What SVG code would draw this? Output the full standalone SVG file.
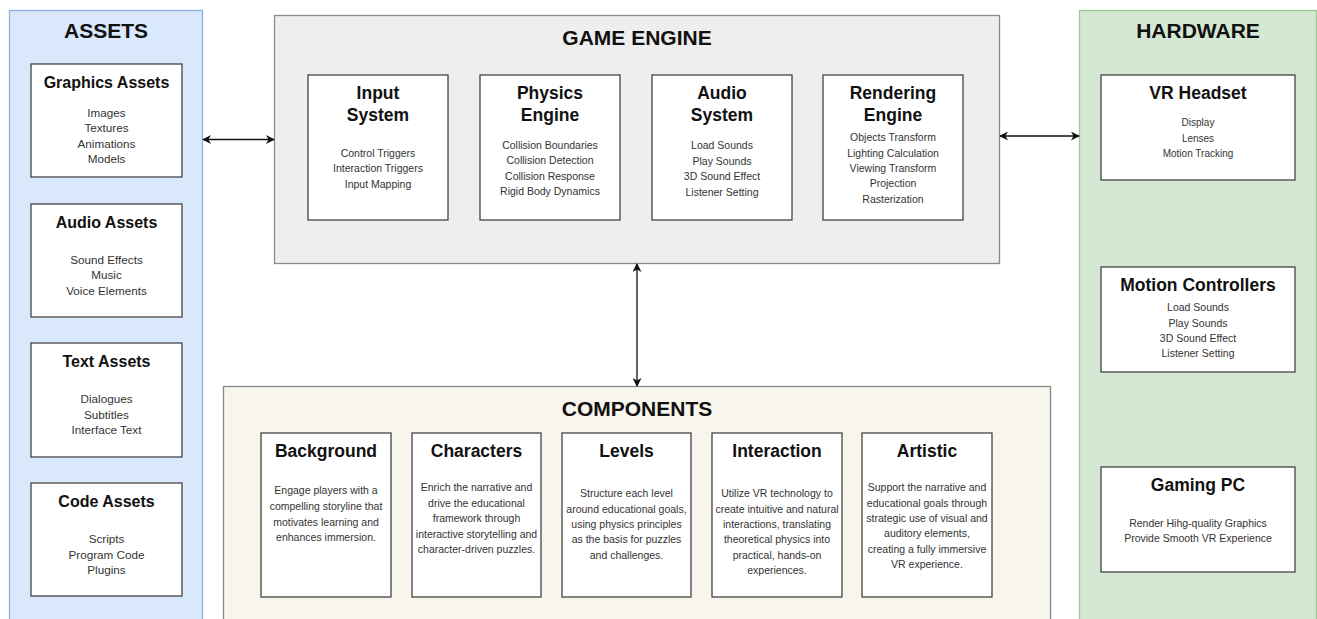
<svg xmlns="http://www.w3.org/2000/svg" width="1317" height="619" viewBox="0 0 1317 619">
<defs>
<marker id="ah" viewBox="0 0 10 10" refX="9" refY="5" markerWidth="10" markerHeight="9" markerUnits="userSpaceOnUse" orient="auto-start-reverse">
<path d="M0,0 L10,5 L0,10 L3,5 Z" fill="#111"/>
</marker>
<style>
text{font-family:"Liberation Sans",Arial,sans-serif;text-anchor:middle;dominant-baseline:central}
.ptitle{font-size:21px;font-weight:bold;fill:#111}
.btitle{font-size:17.5px;font-weight:bold;fill:#111}
.atitle{font-size:16px;font-weight:bold;fill:#111}
.item{font-size:10.5px;fill:#333}
.aitem{font-size:11.7px;fill:#333}
.hitem{font-size:10px;fill:#333}
.box{fill:#fff;stroke:#444;stroke-width:1.3}
.conn{stroke:#111;stroke-width:1.3;fill:none;marker-start:url(#ah);marker-end:url(#ah)}
</style>
</defs>
<rect width="1317" height="619" fill="#fff"/>

<g id="assets">
<rect x="9.5" y="10.5" width="193" height="620" fill="#dae8fc" stroke="#8fb0e0" stroke-width="1.3"/>
<text class="ptitle" x="106" y="30">ASSETS</text>
<g id="graphics-assets">
<rect class="box" x="31" y="64" width="151" height="113"/>
<text class="atitle" x="106.5" y="82">Graphics Assets</text>
<text class="aitem" x="106.5" y="112">Images</text>
<text class="aitem" x="106.5" y="127.5">Textures</text>
<text class="aitem" x="106.5" y="143">Animations</text>
<text class="aitem" x="106.5" y="158.5">Models</text>
</g>
<g id="audio-assets">
<rect class="box" x="31" y="204" width="151" height="113"/>
<text class="atitle" x="106.5" y="222">Audio Assets</text>
<text class="aitem" x="106.5" y="259">Sound Effects</text>
<text class="aitem" x="106.5" y="274.5">Music</text>
<text class="aitem" x="106.5" y="290">Voice Elements</text>
</g>
<g id="text-assets">
<rect class="box" x="31" y="343" width="151" height="114"/>
<text class="atitle" x="106.5" y="361">Text Assets</text>
<text class="aitem" x="106.5" y="398.5">Dialogues</text>
<text class="aitem" x="106.5" y="414">Subtitles</text>
<text class="aitem" x="106.5" y="429.5">Interface Text</text>
</g>
<g id="code-assets">
<rect class="box" x="31" y="483" width="151" height="113"/>
<text class="atitle" x="106.5" y="501">Code Assets</text>
<text class="aitem" x="106.5" y="538.5">Scripts</text>
<text class="aitem" x="106.5" y="554">Program Code</text>
<text class="aitem" x="106.5" y="569.5">Plugins</text>
</g>
</g>

<g id="game-engine">
<rect x="274.5" y="15.5" width="725" height="248" fill="#eeeeee" stroke="#8a8a8a" stroke-width="1.3"/>
<text class="ptitle" x="637" y="37">GAME ENGINE</text>
<g id="input-system">
<rect class="box" x="308" y="75" width="140" height="145"/>
<text class="btitle" x="378" y="93">Input</text>
<text class="btitle" x="378" y="115">System</text>
<text class="item" x="378" y="152.5">Control Triggers</text>
<text class="item" x="378" y="168">Interaction Triggers</text>
<text class="item" x="378" y="183.5">Input Mapping</text>
</g>
<g id="physics-engine">
<rect class="box" x="480" y="75" width="140" height="145"/>
<text class="btitle" x="550" y="93">Physics</text>
<text class="btitle" x="550" y="115">Engine</text>
<text class="item" x="550" y="144.5">Collision Boundaries</text>
<text class="item" x="550" y="160">Collision Detection</text>
<text class="item" x="550" y="175.5">Collision Response</text>
<text class="item" x="550" y="191">Rigid Body Dynamics</text>
</g>
<g id="audio-system">
<rect class="box" x="652" y="75" width="140" height="145"/>
<text class="btitle" x="722" y="93">Audio</text>
<text class="btitle" x="722" y="115">System</text>
<text class="item" x="722" y="145">Load Sounds</text>
<text class="item" x="722" y="160.5">Play Sounds</text>
<text class="item" x="722" y="176">3D Sound Effect</text>
<text class="item" x="722" y="191.5">Listener Setting</text>
</g>
<g id="rendering-engine">
<rect class="box" x="823" y="75" width="140" height="145"/>
<text class="btitle" x="893" y="93">Rendering</text>
<text class="btitle" x="893" y="115">Engine</text>
<text class="item" x="893" y="137">Objects Transform</text>
<text class="item" x="893" y="152.5">Lighting Calculation</text>
<text class="item" x="893" y="167.5">Viewing Transform</text>
<text class="item" x="893" y="183">Projection</text>
<text class="item" x="893" y="198.5">Rasterization</text>
</g>
</g>

<g id="hardware">
<rect x="1079.5" y="10.5" width="237" height="620" fill="#d5e8d4" stroke="#9cc896" stroke-width="1.3"/>
<text class="ptitle" x="1198" y="30">HARDWARE</text>
<g id="vr-headset">
<rect class="box" x="1101" y="75" width="194" height="105"/>
<text class="btitle" x="1198" y="93">VR Headset</text>
<text class="hitem" x="1198" y="122.5">Display</text>
<text class="hitem" x="1198" y="138">Lenses</text>
<text class="hitem" x="1198" y="153.5">Motion Tracking</text>
</g>
<g id="motion-controllers">
<rect class="box" x="1101" y="267" width="194" height="105"/>
<text class="btitle" x="1198" y="284.5">Motion Controllers</text>
<text class="item" x="1198" y="307">Load Sounds</text>
<text class="item" x="1198" y="322.5">Play Sounds</text>
<text class="item" x="1198" y="338">3D Sound Effect</text>
<text class="item" x="1198" y="353">Listener Setting</text>
</g>
<g id="gaming-pc">
<rect class="box" x="1101" y="467" width="194" height="105"/>
<text class="btitle" x="1198" y="485">Gaming PC</text>
<text class="item" x="1198" y="522.5">Render Hihg-quality Graphics</text>
<text class="item" x="1198" y="538">Provide Smooth VR Experience</text>
</g>
</g>

<g id="components">
<rect x="223.5" y="386.5" width="827" height="244" fill="#f8f6ec" stroke="#8a8a8a" stroke-width="1.3"/>
<text class="ptitle" x="637" y="408">COMPONENTS</text>
<g id="background">
<rect class="box" x="261" y="433" width="130" height="164"/>
<text class="btitle" x="326" y="451">Background</text>
<text class="item" x="326" y="490">Engage players with a</text>
<text class="item" x="326" y="506">compelling storyline that</text>
<text class="item" x="326" y="521.5">motivates learning and</text>
<text class="item" x="326" y="537">enhances immersion.</text>
</g>
<g id="characters">
<rect class="box" x="412" y="433" width="129" height="164"/>
<text class="btitle" x="476.5" y="451">Characters</text>
<text class="item" x="476.5" y="487">Enrich the narrative and</text>
<text class="item" x="476.5" y="502.5">drive the educational</text>
<text class="item" x="476.5" y="518">framework through</text>
<text class="item" x="476.5" y="533.5">interactive storytelling and</text>
<text class="item" x="476.5" y="549">character-driven puzzles.</text>
</g>
<g id="levels">
<rect class="box" x="562" y="433" width="129" height="164"/>
<text class="btitle" x="626.5" y="451">Levels</text>
<text class="item" x="626.5" y="493">Structure each level</text>
<text class="item" x="626.5" y="508.5">around educational goals,</text>
<text class="item" x="626.5" y="524">using physics principles</text>
<text class="item" x="626.5" y="539">as the basis for puzzles</text>
<text class="item" x="626.5" y="554.5">and challenges.</text>
</g>
<g id="interaction">
<rect class="box" x="712" y="433" width="130" height="164"/>
<text class="btitle" x="777" y="451">Interaction</text>
<text class="item" x="777" y="493">Utilize VR technology to</text>
<text class="item" x="777" y="508.5">create intuitive and natural</text>
<text class="item" x="777" y="524">interactions, translating</text>
<text class="item" x="777" y="539">theoretical physics into</text>
<text class="item" x="777" y="554.5">practical, hands-on</text>
<text class="item" x="777" y="570">experiences.</text>
</g>
<g id="artistic">
<rect class="box" x="862" y="433" width="130" height="164"/>
<text class="btitle" x="927" y="451">Artistic</text>
<text class="item" x="927" y="487">Support the narrative and</text>
<text class="item" x="927" y="502.5">educational goals through</text>
<text class="item" x="927" y="518">strategic use of visual and</text>
<text class="item" x="927" y="533">auditory elements,</text>
<text class="item" x="927" y="548.5">creating a fully immersive</text>
<text class="item" x="927" y="564">VR experience.</text>
</g>
</g>

<g id="connectors">
<line class="conn" x1="203" y1="139.5" x2="274" y2="139.5"/>
<line class="conn" x1="1000" y1="136" x2="1079" y2="136"/>
<line class="conn" x1="637" y1="264" x2="637" y2="386"/>
</g>
</svg>
